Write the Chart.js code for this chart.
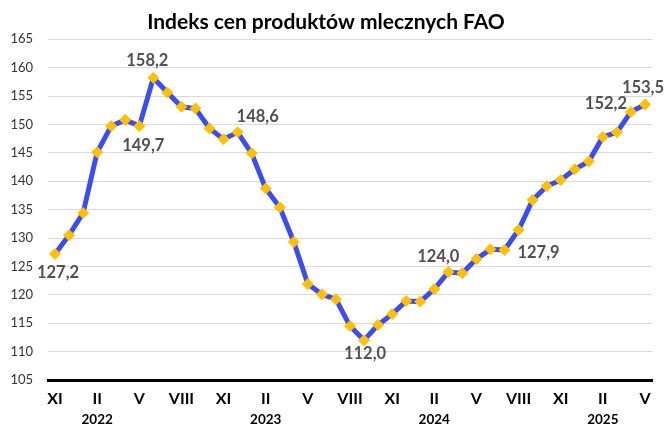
<!DOCTYPE html>
<html>
<head>
<meta charset="utf-8">
<script src="https://cdn.jsdelivr.net/npm/chart.js@4"></script>
<style>
  html, body { margin: 0; padding: 0; background: #fff; }
  #wrap { width: 664px; height: 428px; }
</style>
</head>
<body>
<div id="wrap"><canvas id="c" width="664" height="428"></canvas></div>
<script>
// Months Nov 2021 .. May 2025
const monthLabels = ['XI','XII','I','II','III','IV','V','VI','VII','VIII','IX','X',
  'XI','XII','I','II','III','IV','V','VI','VII','VIII','IX','X',
  'XI','XII','I','II','III','IV','V','VI','VII','VIII','IX','X',
  'XI','XII','I','II','III','IV','V'];
const yearLabels = {3: '2022', 15: '2023', 27: '2024', 39: '2025'};
const values = [127.2, 130.5, 134.4, 145.1, 149.7, 150.8, 149.7, 158.2, 155.6, 153.1, 152.8, 149.3, 147.4,
  148.6, 144.9, 138.7, 135.4, 129.3, 121.9, 120.1, 119.2, 114.5, 112.0, 114.7, 116.6, 118.9, 118.8,
  121.0, 124.0, 123.8, 126.3, 128.0, 127.9, 131.4, 136.7, 139.1, 140.2, 142.1, 143.5, 147.8, 148.6,
  152.2, 153.5];
// annotated points: index -> [dx, dy]
const annotated = {0: [3, 19], 6: [4, 20], 7: [-6, -17], 13: [20, -16], 22: [1, 13],
  28: [-10, -15], 32: [34, 3], 41: [-25, -8], 42: [-2, -17]};
const yMin = 105, yMax = 165, yStep = 5;

const FONT = 'Lato, "Open Sans", sans-serif';

const labelPlugin = {
  id: 'pointLabels',
  afterDatasetsDraw(chart) {
    const ctx = chart.ctx;
    const meta = chart.getDatasetMeta(0);
    ctx.save();
    ctx.font = 'bold 16.5px ' + FONT;
    ctx.fillStyle = '#505050';
    ctx.textAlign = 'center';
    ctx.textBaseline = 'middle';
    Object.keys(annotated).forEach(k => {
      const i = +k;
      const pt = meta.data[i];
      const [dx, dy] = annotated[k];
      ctx.fillText(values[i].toFixed(1).replace('.', ','), pt.x + dx, pt.y + dy);
    });
    ctx.restore();
  }
};

new Chart(document.getElementById('c'), {
  type: 'line',
  data: {
    labels: monthLabels,
    datasets: [{
      data: values,
      borderColor: '#3b4cf2',
      borderWidth: 5,
      tension: 0,
      pointStyle: 'rectRot',
      pointRadius: 5.5,
      pointBackgroundColor: '#ffc000',
      pointBorderColor: '#ffc000',
      pointBorderWidth: 1,
      fill: false
    }]
  },
  options: {
    responsive: false,
    animation: false,
    layout: { padding: { left: 0, right: 12, top: 0, bottom: 0 } },
    plugins: {
      legend: { display: false },
      tooltip: { enabled: false },
      title: {
        display: true,
        text: 'Indeks cen produktów mlecznych FAO',
        color: '#000',
        font: { family: FONT, size: 21, weight: 'bold', lineHeight: 1.2 },
        padding: { top: 10, bottom: 4 }
      }
    },
    scales: {
      y: {
        min: yMin, max: yMax,
        ticks: { stepSize: yStep, color: '#333', font: { family: FONT, size: 13 }, padding: 15 },
        grid: { color: '#d9d9d9', lineWidth: 1, drawTicks: false },
        border: { display: false },
        afterFit(s) { s.width = 48; }
      },
      x: {
        weight: 0,
        offset: true,
        grid: { display: false, drawTicks: false },
        border: { display: true, color: '#000', width: 3 },
        ticks: {
          autoSkip: false, maxRotation: 0, minRotation: 0, padding: 9, color: '#000',
          font: { family: FONT, size: 16, weight: 'bold' },
          callback: (v, i) => (i % 3 === 0 ? monthLabels[i] : '')
        },
        afterFit(s) { s.height = 28; }
      },
      x2: {
        type: 'category',
        position: 'bottom',
        weight: 1,
        offset: true,
        labels: monthLabels,
        grid: { display: false, drawTicks: false },
        border: { display: false },
        ticks: {
          autoSkip: false, maxRotation: 0, minRotation: 0, padding: 4, color: '#000',
          font: { family: FONT, size: 13.5, weight: 'bold' },
          callback: (v, i) => (yearLabels[i] || '')
        },
        afterFit(s) { s.height = 20; }
      }
    }
  },
  plugins: [labelPlugin]
});
</script>
</body>
</html>
